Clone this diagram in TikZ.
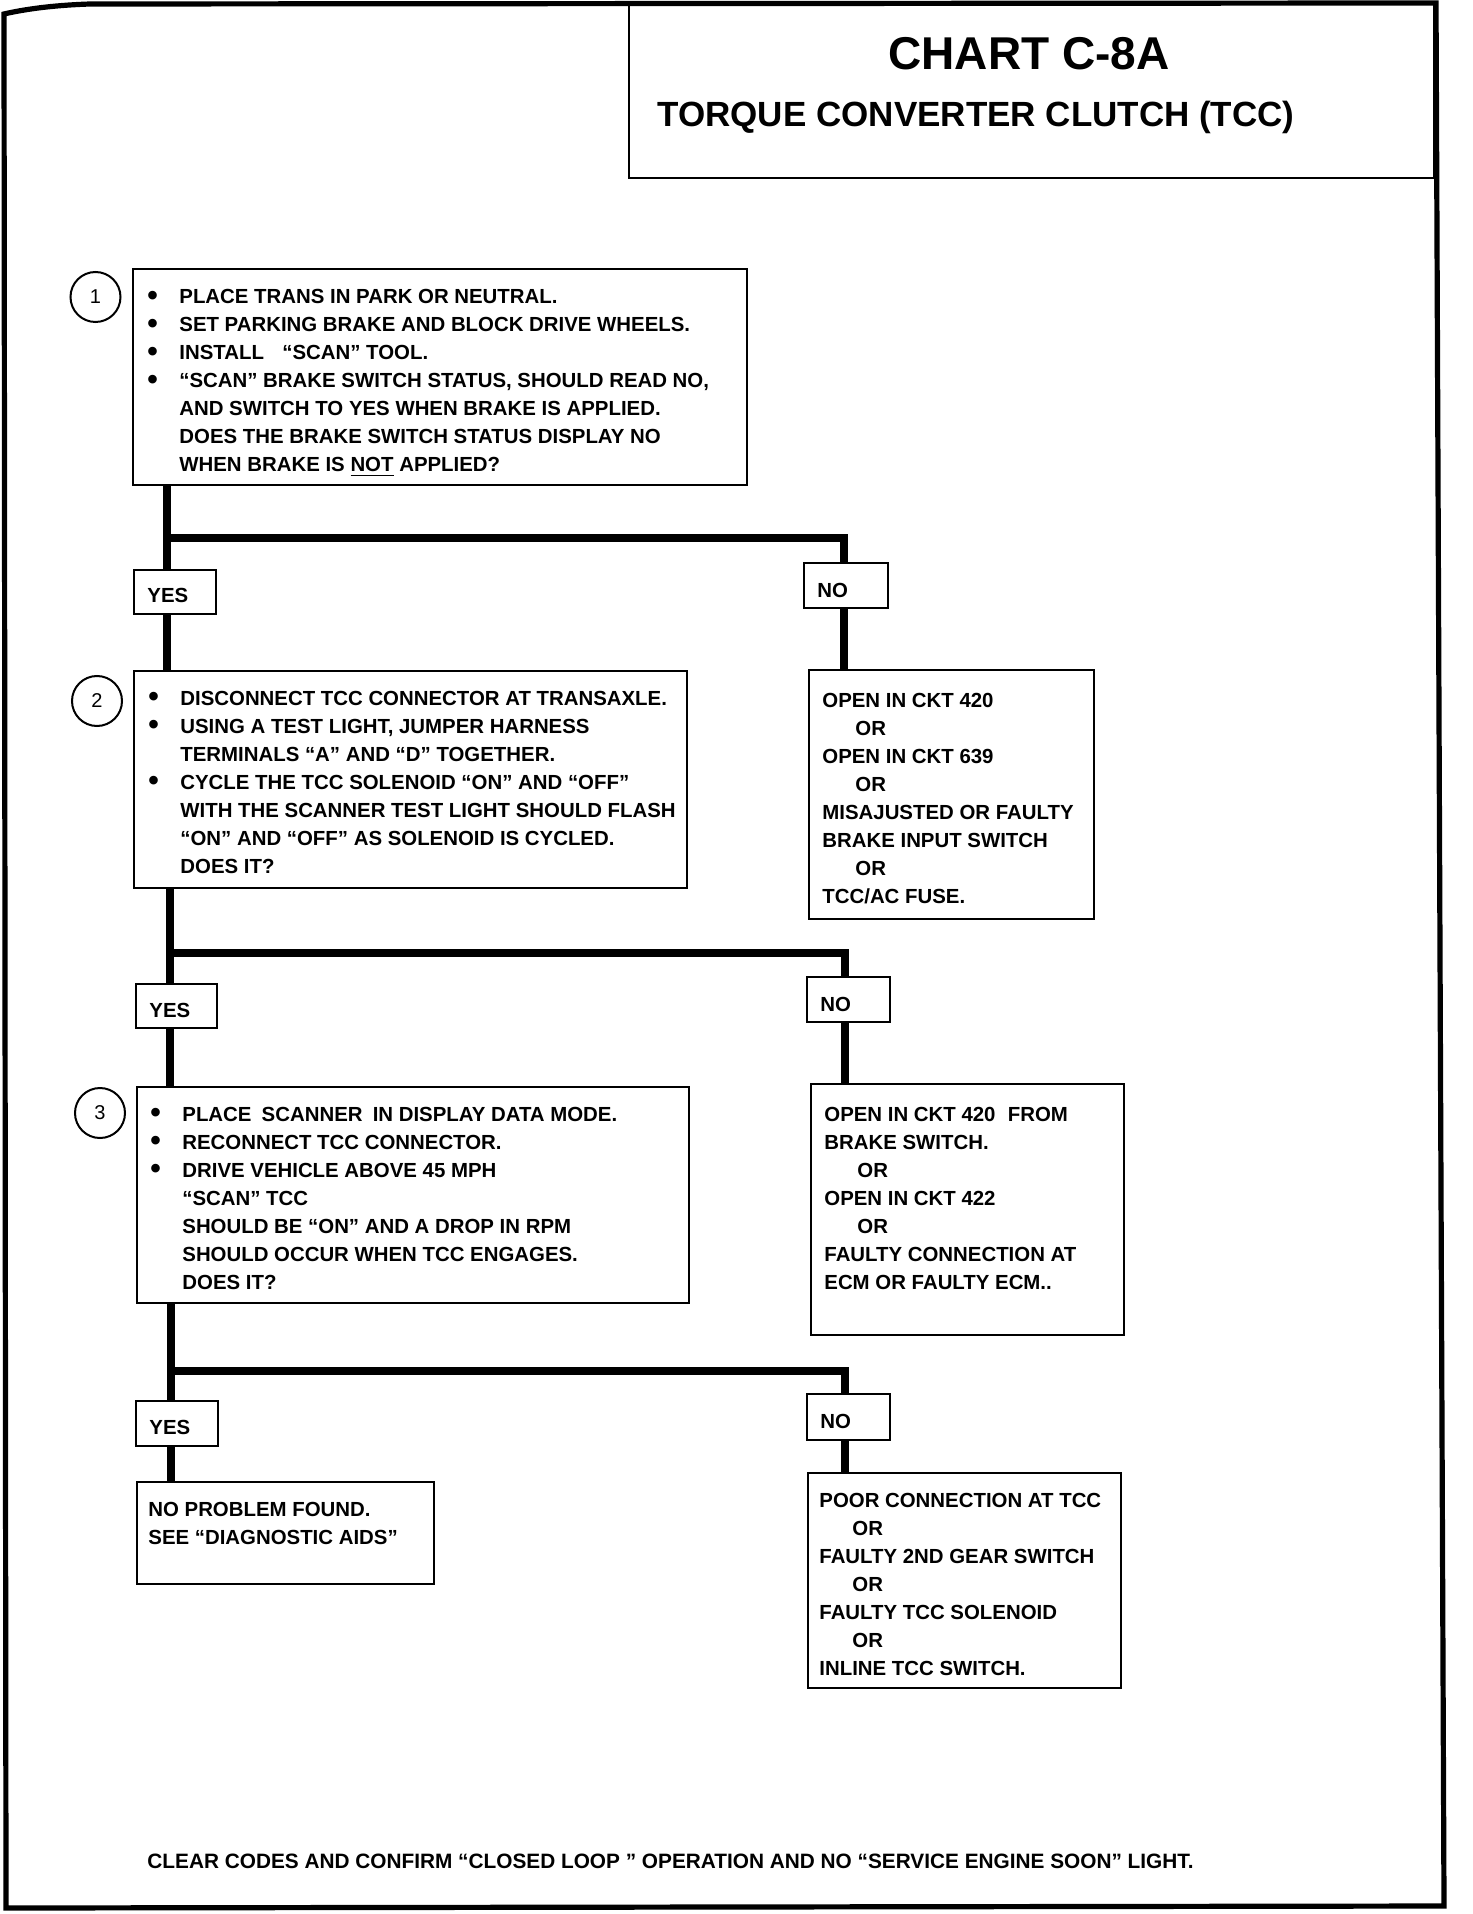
\documentclass[tikz,border=0pt]{standalone}
\usepackage{fontspec}
\setmainfont{Liberation Sans}
\newcommand{\bul}{\makebox[16pt][l]{\raisebox{-0.6pt}{\fontsize{15}{15}\selectfont\textbullet}}}
\newcommand{\ind}{\hspace*{16pt}}
\newcommand{\orr}{\hspace*{16.5pt}OR}
\newcommand{\txtlines}[1]{\begin{tabular}[t]{@{}l@{}}#1\end{tabular}}
\begin{document}
\begin{tikzpicture}[x=0.5pt,y=-0.5pt,
  box/.style={draw, line width=1.2pt, rectangle, anchor=north west, inner sep=0pt, outer sep=0pt},
  conn/.style={line width=3.6pt, line join=miter},
  txt/.style={anchor=base west, inner sep=0pt, font=\fontsize{10.2}{14}\selectfont\bfseries},
  numc/.style={draw, circle, line width=1pt, minimum size=25pt, inner sep=0pt, font=\fontsize{10}{12}\selectfont}
]
\useasboundingbox (0,0) rectangle (1472,1914);
% outer frame
\draw[line width=2.6pt, line join=miter] (4,14) .. controls (30,8) and (60,5) .. (90,4) -- (1436,3) -- (1444,1906) -- (6,1908) -- cycle;
% title box
\node[box, minimum width=402.5pt, minimum height=87.5pt] (title) at (629,3) {};
\node[anchor=base, inner sep=0pt, font=\fontsize{23}{23}\selectfont\bfseries] (t1) at (1029,70) {CHART C-8A};
\node[anchor=base east, inner sep=0pt, font=\fontsize{17.5}{17.5}\selectfont\bfseries] (t2) at (1295,127) {TORQUE CONVERTER CLUTCH (TCC)};

% step boxes
\node[box, minimum width=307pt, minimum height=108pt] (b1) at (133,269) {};
\node[box, minimum width=276.5pt, minimum height=108.5pt] (b2) at (134,671) {};
\node[box, minimum width=276pt, minimum height=108pt] (b3) at (137,1087) {};
% result boxes
\node[box, minimum width=142.5pt, minimum height=124.5pt] (r1) at (809,670) {};
\node[box, minimum width=156.5pt, minimum height=125.5pt] (r2) at (811,1084) {};
\node[box, minimum width=156.5pt, minimum height=107.5pt] (r3) at (808,1473) {};
\node[box, minimum width=148.5pt, minimum height=51pt] (ry) at (137,1482) {};
% yes / no boxes
\node[box, minimum width=41pt, minimum height=22pt] (y1) at (134,570) {};
\node[box, minimum width=40.5pt, minimum height=22pt] (y2) at (136,984) {};
\node[box, minimum width=41pt, minimum height=22.5pt] (y3) at (136,1401) {};
\node[box, minimum width=42pt, minimum height=22.5pt] (n1) at (804,563) {};
\node[box, minimum width=41.5pt, minimum height=22.5pt] (n2) at (807,977) {};
\node[box, minimum width=41.5pt, minimum height=23pt] (n3) at (807,1394) {};

\node[txt] (ly1) at (147,603) {YES};
\node[txt] (ly2) at (149,1017) {YES};
\node[txt] (ly3) at (149,1434) {YES};
\node[txt] (ln1) at (817,597) {NO};
\node[txt] (ln2) at (820,1011) {NO};
\node[txt] (ln3) at (820,1428) {NO};

% number circles
\node[numc] (c1) at (95.5,297) {1};
\node[numc] (c2) at (97,701) {2};
\node[numc] (c3) at (100,1113) {3};

% texts
\node[txt] (tx1) at (147,304) {\txtlines{%
\bul PLACE TRANS IN PARK OR NEUTRAL.\\
\bul SET PARKING BRAKE AND BLOCK DRIVE WHEELS.\\
\bul INSTALL\hspace{0.9em}“SCAN” TOOL.\\
\bul “SCAN” BRAKE SWITCH STATUS, SHOULD READ NO,\\
\ind AND SWITCH TO YES WHEN BRAKE IS APPLIED.\\
\ind DOES THE BRAKE SWITCH STATUS DISPLAY NO\\
\ind WHEN BRAKE IS \underline{NOT} APPLIED?}};

\node[txt] (tx2) at (148,705) {\txtlines{%
\bul DISCONNECT TCC CONNECTOR AT TRANSAXLE.\\
\bul USING A TEST LIGHT, JUMPER HARNESS\\
\ind TERMINALS “A” AND “D” TOGETHER.\\
\bul CYCLE THE TCC SOLENOID “ON” AND “OFF”\\
\ind WITH THE SCANNER TEST LIGHT SHOULD FLASH\\
\ind “ON” AND “OFF” AS SOLENOID IS CYCLED.\\
\ind DOES IT?}};

\node[txt] (tx3) at (150,1121) {\txtlines{%
\bul PLACE\hspace{0.5em}SCANNER\hspace{0.5em}IN DISPLAY DATA MODE.\\
\bul RECONNECT TCC CONNECTOR.\\
\bul DRIVE VEHICLE ABOVE 45 MPH\\
\ind “SCAN” TCC\\
\ind SHOULD BE “ON” AND A DROP IN RPM\\
\ind SHOULD OCCUR WHEN TCC ENGAGES.\\
\ind DOES IT?}};

\node[txt] (tr1) at (822,707) {\txtlines{%
OPEN IN CKT 420\\
\orr\\
OPEN IN CKT 639\\
\orr\\
MISAJUSTED OR FAULTY\\
BRAKE INPUT SWITCH\\
\orr\\
TCC/AC FUSE.}};

\node[txt] (tr2) at (824,1121) {\txtlines{%
OPEN IN CKT 420\hspace{0.6em}FROM\\
BRAKE SWITCH.\\
\orr\\
OPEN IN CKT 422\\
\orr\\
FAULTY CONNECTION AT\\
ECM OR FAULTY ECM..}};

\node[txt] (tr3) at (819,1507) {\txtlines{%
POOR CONNECTION AT TCC\\
\orr\\
FAULTY 2ND GEAR SWITCH\\
\orr\\
FAULTY TCC SOLENOID\\
\orr\\
INLINE TCC SWITCH.}};

\node[txt] (try) at (148,1516) {\txtlines{%
NO PROBLEM FOUND.\\
SEE “DIAGNOSTIC AIDS”}};

\node[txt, font=\fontsize{10.4}{14}\selectfont\bfseries] (foot) at (147,1868) {CLEAR CODES AND CONFIRM “CLOSED LOOP ” OPERATION AND NO “SERVICE ENGINE SOON” LIGHT.};

% connectors
\coordinate (j1) at (167,538); \coordinate (k1) at (844,538);
\coordinate (j2) at (170,953); \coordinate (k2) at (845,953);
\coordinate (j3) at (171,1371); \coordinate (k3) at (845,1371);

\draw[conn] (b1.south -| j1) -- (j1 |- y1.north);
\draw[conn] (j1 |- y1.south) -- (j1 |- b2.north);
\draw[conn] (j1) -- (k1) -- (k1 |- n1.north);
\draw[conn] (k1 |- n1.south) -- (k1 |- r1.north);

\draw[conn] (b2.south -| j2) -- (j2 |- y2.north);
\draw[conn] (j2 |- y2.south) -- (j2 |- b3.north);
\draw[conn] (j2) -- (k2) -- (k2 |- n2.north);
\draw[conn] (k2 |- n2.south) -- (k2 |- r2.north);

\draw[conn] (b3.south -| j3) -- (j3 |- y3.north);
\draw[conn] (j3 |- y3.south) -- (j3 |- ry.north);
\draw[conn] (j3) -- (k3) -- (k3 |- n3.north);
\draw[conn] (k3 |- n3.south) -- (k3 |- r3.north);
\end{tikzpicture}
\end{document}
